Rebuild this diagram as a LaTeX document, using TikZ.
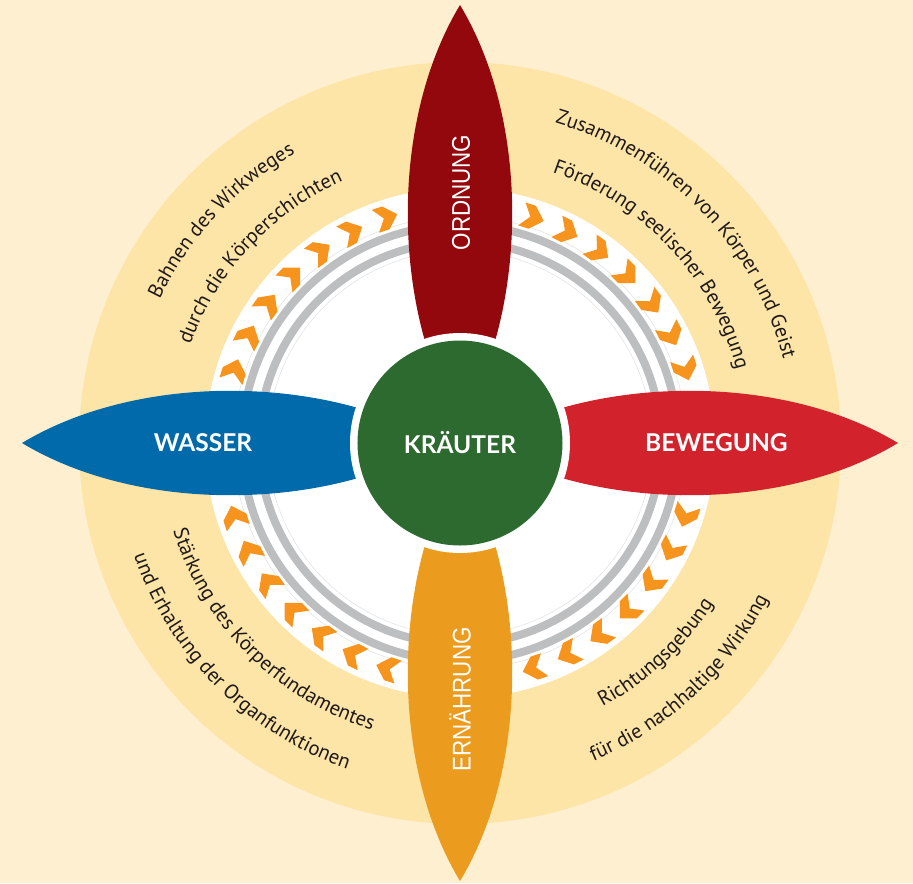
\documentclass[tikz,border=0pt]{standalone}
\usepackage{fontspec}
\setmainfont{PT Sans}
\newfontfamily\labfont{Lato}
\newfontfamily\arfont{Liberation Sans}
\usetikzlibrary{decorations.text}
\definecolor{bgcol}{RGB}{254,239,208}
\definecolor{ringcol}{RGB}{253,228,167}
\definecolor{ordcol}{RGB}{147,8,12}
\definecolor{bewcol}{RGB}{210,34,43}
\definecolor{erncol}{RGB}{235,155,30}
\definecolor{wascol}{RGB}{1,106,170}
\definecolor{krcol}{RGB}{44,106,48}
\definecolor{arrcol}{RGB}{247,148,29}
\definecolor{graycol}{RGB}{188,190,192}
\definecolor{thincol}{RGB}{225,226,227}
\definecolor{txtcol}{RGB}{30,26,27}
\tikzset{
  petal/.pic={\fill[#1] (95,-33) .. controls (200,-65) and (340,-59) .. (438,0)
      .. controls (340,59) and (200,65) .. (95,33) -- cycle;},
  boldlab/.style={text=white, font=\labfont\bfseries\fontsize{18.4}{20}\selectfont, inner sep=0pt},
  thinlab/.style={text=white, font=\arfont\fontsize{19.2}{20}\selectfont, inner sep=0pt},
  arctext/.style={decorate, decoration={text along path, text align=center, text color=txtcol,
      text={|\fontsize{15.4}{17}\selectfont|#1}}}
}
\begin{document}
\begin{tikzpicture}[x=0.75pt,y=0.75pt]
\useasboundingbox (-460,-440) rectangle (453,443);
\fill[bgcol] (-460,-440) rectangle (453,443);
\fill[ringcol] (0,0) circle[radius=381];
\fill[white] (0,0) circle[radius=255];
% grey rings
\draw[graycol, line width=6pt] (0,0) circle[radius=218];
\draw[graycol, line width=6pt] (0,0) circle[radius=201];
\draw[thincol, line width=0.4pt] (0,0) circle[radius=226.5];
\draw[thincol, line width=0.4pt] (0,0) circle[radius=192.5];
% arrows (clockwise)
\foreach \q in {45,135,225,315}{
  \foreach \o in {-27,-18,-9,0,9,18,27}{
    \pgfmathsetmacro{\ang}{\q+\o}
    \pgfmathsetmacro{\rot}{\q+\o-90}
    \fill[arrcol, shift={(\ang:237)}, rotate=\rot]
      (11,0) -- (-1,12) -- (-12,12) -- (-3,0) -- (-12,-12) -- (-1,-12) -- cycle;
  }
}
% petals
\pic[rotate=90] {petal=ordcol};
\pic[rotate=0] {petal=bewcol};
\pic[rotate=270] {petal=erncol};
\pic[rotate=180] {petal=wascol};
% centre
\fill[white] (0,0) circle[radius=110];
\node[circle, fill=krcol, minimum size=205*0.75pt, inner sep=0pt] (kreis) at (0,0) {};
\node[boldlab] (kr) at (0,0) {KRÄUTER};
\node[boldlab] (was) at (-257,0) {WASSER};
\node[boldlab] (bew) at (256.5,0) {BEWEGUNG};
\node[thinlab, rotate=90] (ord) at (1,250.5) {\scalebox{0.875}[1]{ORDNUNG}};
\node[thinlab, rotate=90] (ern) at (0,-256.5) {\scalebox{0.875}[1]{ERNÄHRUNG}};
% curved texts
\path[arctext={Zusammenführen von Körper und Geist}] (94:334) arc[start angle=94, end angle=-6, radius=334];
\path[arctext={Förderung seelischer Bewegung}] (93:286) arc[start angle=93, end angle=-7, radius=286];
\path[arctext={Bahnen des Wirkweges}] (187:333) arc[start angle=187, end angle=87, radius=333];
\path[arctext={durch die Körperschichten}] (187:287) arc[start angle=187, end angle=87, radius=287];
\path[arctext={Richtungsgebung}] (-97:300) arc[start angle=-97, end angle=3, radius=300];
\path[arctext={für die nachhaltige Wirkung}] (-97:345) arc[start angle=-97, end angle=3, radius=345];
\path[arctext={Stärkung des Körperfundamentes}] (175:300) arc[start angle=175, end angle=275, radius=300];
\path[arctext={und Erhaltung der Organfunktionen}] (175:345) arc[start angle=175, end angle=275, radius=345];
\end{tikzpicture}
\end{document}
